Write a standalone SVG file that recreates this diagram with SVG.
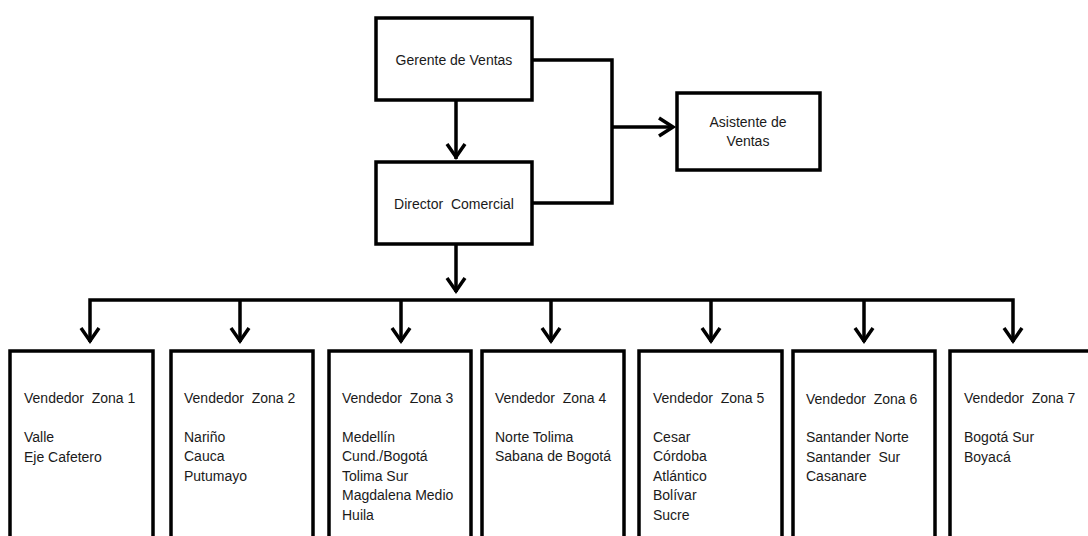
<svg xmlns="http://www.w3.org/2000/svg" width="1088" height="536" viewBox="0 0 1088 536">
<style>
.box{fill:#fff;stroke:#000;stroke-width:3.5}
.ln{fill:none;stroke:#000;stroke-width:3.5}
.ah{fill:none;stroke:#000;stroke-width:3.5;stroke-linejoin:miter}
text{font-family:"Liberation Sans",Arial,sans-serif;font-size:14px;fill:#1a1a1a;white-space:pre}
.c{text-anchor:middle}
</style>
<rect width="1088" height="536" fill="#fff"/>
<g id="connectors">
<path class="ln" d="M456 100V159"/>
<path class="ah" d="M447 144L456 157L465 144"/>
<path class="ln" d="M533 60H612V203H533"/>
<path class="ln" d="M612 127H673"/>
<path class="ah" d="M659 118L673 127L659 136"/>
<path class="ln" d="M456 244V292"/>
<path class="ah" d="M447 278L456 291L465 278"/>
<path class="ln" d="M90 342V300H1013V342"/>
<path class="ln" d="M240 300V342M401 300V342M551 300V342M711 300V342M864 300V342"/>
<g>
<path class="ah" d="M81 328L90 341L99 328"/>
<path class="ah" d="M231 328L240 341L249 328"/>
<path class="ah" d="M392 328L401 341L410 328"/>
<path class="ah" d="M542 328L551 341L560 328"/>
<path class="ah" d="M702 328L711 341L720 328"/>
<path class="ah" d="M855 328L864 341L873 328"/>
<path class="ah" d="M1004 328L1013 341L1022 328"/>
</g>
</g>
<g id="gerente"><rect class="box" x="376" y="18" width="156" height="82"/><text class="c" x="454" y="65">Gerente de Ventas</text></g>
<g id="director"><rect class="box" x="376" y="162" width="156" height="82"/><text class="c" x="454" y="209">Director  Comercial</text></g>
<g id="asistente"><rect class="box" x="677" y="93" width="143" height="77"/><text class="c" x="748" y="127">Asistente de</text><text class="c" x="748" y="146">Ventas</text></g>
<g id="zona1"><rect class="box" x="10" y="351" width="143" height="200"/><text x="24" y="403">Vendedor  Zona 1</text><text x="24" y="442">Valle</text><text x="24" y="462">Eje Cafetero</text></g>
<g id="zona2"><rect class="box" x="171" y="351" width="142" height="200"/><text x="184" y="403">Vendedor  Zona 2</text><text x="184" y="442">Nariño</text><text x="184" y="461">Cauca</text><text x="184" y="481">Putumayo</text></g>
<g id="zona3"><rect class="box" x="329" y="351" width="142" height="200"/><text x="342" y="403">Vendedor  Zona 3</text><text x="342" y="442">Medellín</text><text x="342" y="461">Cund./Bogotá</text><text x="342" y="481">Tolima Sur</text><text x="342" y="500">Magdalena Medio</text><text x="342" y="520">Huila</text></g>
<g id="zona4"><rect class="box" x="482" y="351" width="142" height="200"/><text x="495" y="403">Vendedor  Zona 4</text><text x="495" y="442">Norte Tolima</text><text x="495" y="461">Sabana de Bogotá</text></g>
<g id="zona5"><rect class="box" x="639" y="351" width="143" height="200"/><text x="653" y="403">Vendedor  Zona 5</text><text x="653" y="442">Cesar</text><text x="653" y="461">Córdoba</text><text x="653" y="481">Atlántico</text><text x="653" y="500">Bolívar</text><text x="653" y="520">Sucre</text></g>
<g id="zona6"><rect class="box" x="793" y="351" width="142" height="200"/><text x="806" y="404">Vendedor  Zona 6</text><text x="806" y="442">Santander Norte</text><text x="806" y="462">Santander  Sur</text><text x="806" y="481">Casanare</text></g>
<g id="zona7"><rect class="box" x="950" y="351" width="150" height="200"/><text x="964" y="403">Vendedor  Zona 7</text><text x="964" y="442">Bogotá Sur</text><text x="964" y="462">Boyacá</text></g>
</svg>
